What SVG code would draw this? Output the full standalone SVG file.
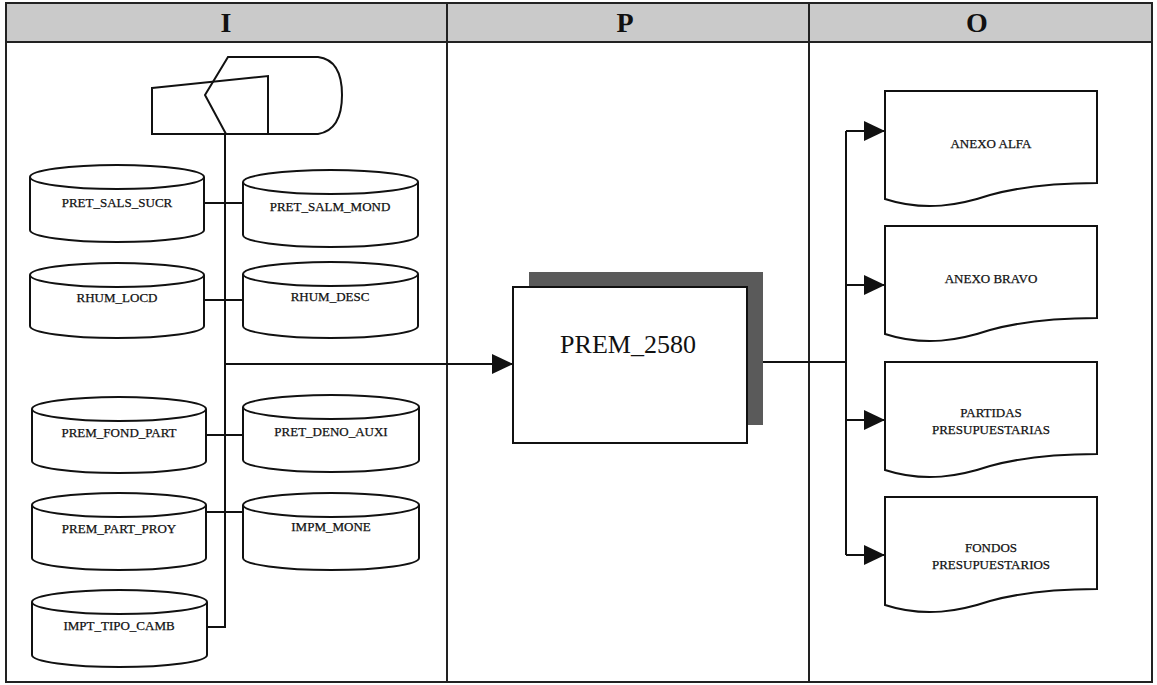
<svg xmlns="http://www.w3.org/2000/svg" width="1157" height="685" viewBox="0 0 1157 685">
<style>
.ln{fill:none;stroke:#111;stroke-width:2}
.sh{fill:#fff;stroke:#111;stroke-width:2}
.tb{fill:none;stroke:#222;stroke-width:2}
.t{font-family:"Liberation Serif","Times New Roman",serif;font-size:13px;fill:#111;stroke:#111;stroke-width:0.25;text-anchor:middle}
.h{font-family:"Liberation Serif","Times New Roman",serif;font-size:28px;font-weight:bold;fill:#111;text-anchor:middle}
.p{font-family:"Liberation Serif","Times New Roman",serif;font-size:26px;fill:#111;text-anchor:middle}
</style>
<defs>
<marker id="arr" markerUnits="userSpaceOnUse" markerWidth="22" markerHeight="20" refX="21" refY="10" orient="auto">
<path d="M0,0 L21,10 L0,20 Z" fill="#111"/>
</marker>
</defs>
<rect width="1157" height="685" fill="#fff"/>
<g id="table">
<rect x="6" y="3" width="1146" height="39" fill="#cacaca"/>
<rect x="6" y="3" width="1146" height="679" class="tb"/>
<line x1="6" y1="42" x2="1152" y2="42" class="tb"/>
<line x1="447" y1="3" x2="447" y2="682" class="tb"/>
<line x1="809" y1="3" x2="809" y2="682" class="tb"/>
<text x="226" y="32" class="h">I</text>
<text x="625" y="32" class="h">P</text>
<text x="977" y="32" class="h">O</text>
</g>
<g id="connectors">
<path class="ln" d="M225,134 V627 H207"/>
<path class="ln" d="M204,203 H243"/>
<path class="ln" d="M204,300 H243"/>
<path class="ln" d="M206,435 H243"/>
<path class="ln" d="M206,512 H243"/>
<path class="ln" d="M225,364 H513" marker-end="url(#arr)"/>
<path class="ln" d="M747,362 H846"/>
<path class="ln" d="M846,131 V555"/>
<path class="ln" d="M846,131 H885" marker-end="url(#arr)"/>
<path class="ln" d="M846,285 H885" marker-end="url(#arr)"/>
<path class="ln" d="M846,420 H885" marker-end="url(#arr)"/>
<path class="ln" d="M846,555 H885" marker-end="url(#arr)"/>
</g>
<g id="display">
<path class="ln" d="M152,88 L268,76 V134 H152 Z"/>
<path class="ln" d="M228,57 H318 Q342,60 342,95 Q342,130 318,134 H226 L205,95 Z"/>
</g>
<g id="cyl1"><path class="sh" d="M30,177 A87,12 0 0 1 204,177 V230 A87,12 0 0 1 30,230 Z"/><path class="ln" d="M30,177 A87,12 0 0 0 204,177"/><text x="117" y="207" class="t">PRET_SALS_SUCR</text></g>
<g id="cyl2"><path class="sh" d="M243,182 A87.5,12 0 0 1 418,182 V235 A87.5,12 0 0 1 243,235 Z"/><path class="ln" d="M243,182 A87.5,12 0 0 0 418,182"/><text x="330" y="211" class="t">PRET_SALM_MOND</text></g>
<g id="cyl3"><path class="sh" d="M30,275 A87,12 0 0 1 204,275 V326 A87,12 0 0 1 30,326 Z"/><path class="ln" d="M30,275 A87,12 0 0 0 204,275"/><text x="117" y="302" class="t">RHUM_LOCD</text></g>
<g id="cyl4"><path class="sh" d="M243,274 A87.5,12 0 0 1 418,274 V326 A87.5,12 0 0 1 243,326 Z"/><path class="ln" d="M243,274 A87.5,12 0 0 0 418,274"/><text x="330" y="301" class="t">RHUM_DESC</text></g>
<g id="cyl5"><path class="sh" d="M32,409 A87,12 0 0 1 206,409 V461 A87,12 0 0 1 32,461 Z"/><path class="ln" d="M32,409 A87,12 0 0 0 206,409"/><text x="119" y="437" class="t">PREM_FOND_PART</text></g>
<g id="cyl6"><path class="sh" d="M243,407 A88,12 0 0 1 419,407 V460 A88,12 0 0 1 243,460 Z"/><path class="ln" d="M243,407 A88,12 0 0 0 419,407"/><text x="331" y="436" class="t">PRET_DENO_AUXI</text></g>
<g id="cyl7"><path class="sh" d="M32,505 A87,12 0 0 1 206,505 V558 A87,12 0 0 1 32,558 Z"/><path class="ln" d="M32,505 A87,12 0 0 0 206,505"/><text x="119" y="533" class="t">PREM_PART_PROY</text></g>
<g id="cyl8"><path class="sh" d="M243,505 A88,12 0 0 1 419,505 V558 A88,12 0 0 1 243,558 Z"/><path class="ln" d="M243,505 A88,12 0 0 0 419,505"/><text x="331" y="531" class="t">IMPM_MONE</text></g>
<g id="cyl9"><path class="sh" d="M32,602 A87.5,12 0 0 1 207,602 V655 A87.5,12 0 0 1 32,655 Z"/><path class="ln" d="M32,602 A87.5,12 0 0 0 207,602"/><text x="119" y="630" class="t">IMPT_TIPO_CAMB</text></g>
<g id="process">
<rect x="529" y="272" width="234" height="153" fill="#5a5a5a"/>
<rect x="513" y="287" width="234" height="156" class="sh"/>
<text x="628" y="353" class="p">PREM_2580</text>
</g>
<g id="doc1"><path class="sh" d="M885,91 H1097 V183 C1070,183 1030,184 990,195 C960,205 925,212 885,199 Z"/><text x="991" y="148" class="t">ANEXO ALFA</text></g>
<g id="doc2"><path class="sh" d="M885,226 H1097 V318 C1070,318 1030,319 990,330 C960,340 925,347 885,334 Z"/><text x="991" y="283" class="t">ANEXO BRAVO</text></g>
<g id="doc3"><path class="sh" d="M885,362 H1097 V454 C1070,454 1030,455 990,466 C960,476 925,483 885,470 Z"/><text x="991" y="417" class="t">PARTIDAS</text><text x="991" y="434" class="t">PRESUPUESTARIAS</text></g>
<g id="doc4"><path class="sh" d="M885,497 H1097 V589 C1070,589 1030,590 990,601 C960,611 925,618 885,605 Z"/><text x="991" y="552" class="t">FONDOS</text><text x="991" y="569" class="t">PRESUPUESTARIOS</text></g>
</svg>
